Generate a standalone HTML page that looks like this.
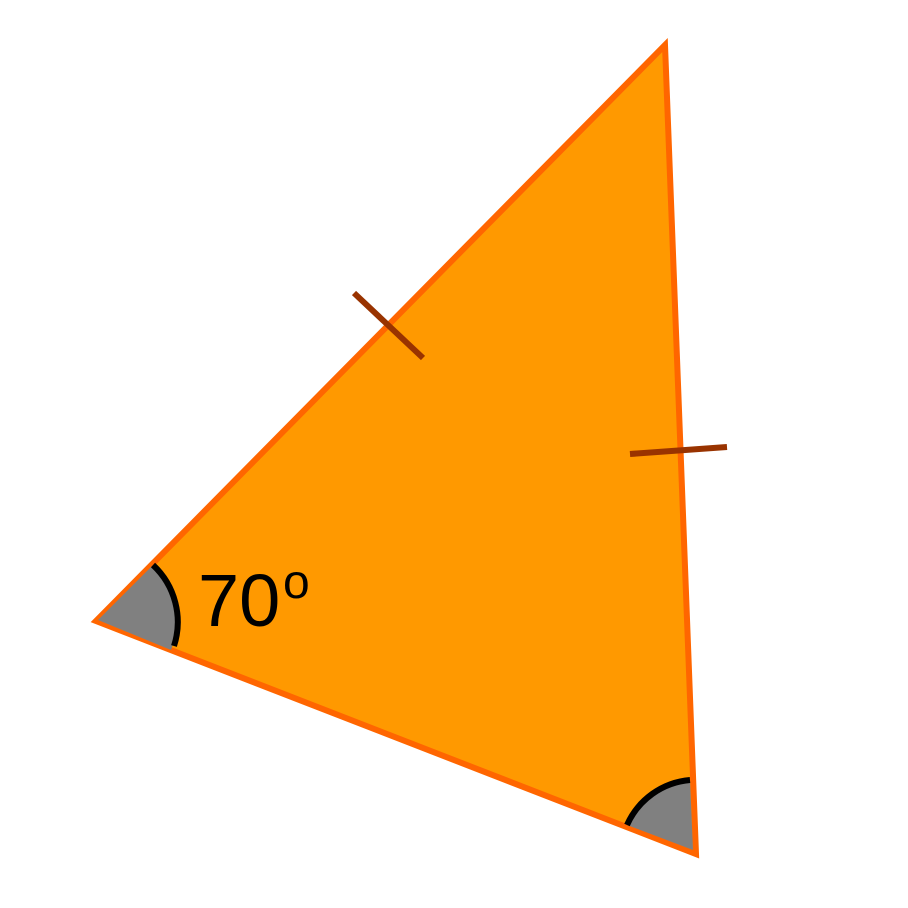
<!DOCTYPE html>
<html><head><meta charset="utf-8"><style>html,body{margin:0;padding:0;background:#fff}svg{display:block}.lbl{font-family:"Liberation Sans",Arial,sans-serif}</style></head>
<body>
<svg width="908" height="908" viewBox="0 0 908 908">
  <polygon points="665,45 96,621 696,854" fill="#FF9900" stroke="#FF6600" stroke-width="6" stroke-linejoin="miter"/>
  <path d="M98,620 L153,565 A78,78 0 0 1 171,650 Z" fill="#808080"/>
  <path d="M153,565 A78,78 0 0 1 174,646" fill="none" stroke="#000" stroke-width="6"/>
  <path d="M693,850 L627,825 A76,76 0 0 1 690,780 Z" fill="#808080"/>
  <path d="M627,825 A76,76 0 0 1 690,780" fill="none" stroke="#000" stroke-width="6"/>
  <line x1="354" y1="293" x2="423" y2="358" stroke="#993300" stroke-width="6"/>
  <line x1="630" y1="454" x2="727" y2="447" stroke="#993300" stroke-width="6"/>
  <text class="lbl" x="198" y="626" style="font-family:'Liberation Sans',Arial,sans-serif;font-size:74px" fill="#000">70</text>
  <text class="lbl" x="283" y="598" style="font-family:'Liberation Sans',Arial,sans-serif;font-size:48px" fill="#000">o</text>
</svg>
</body></html>
